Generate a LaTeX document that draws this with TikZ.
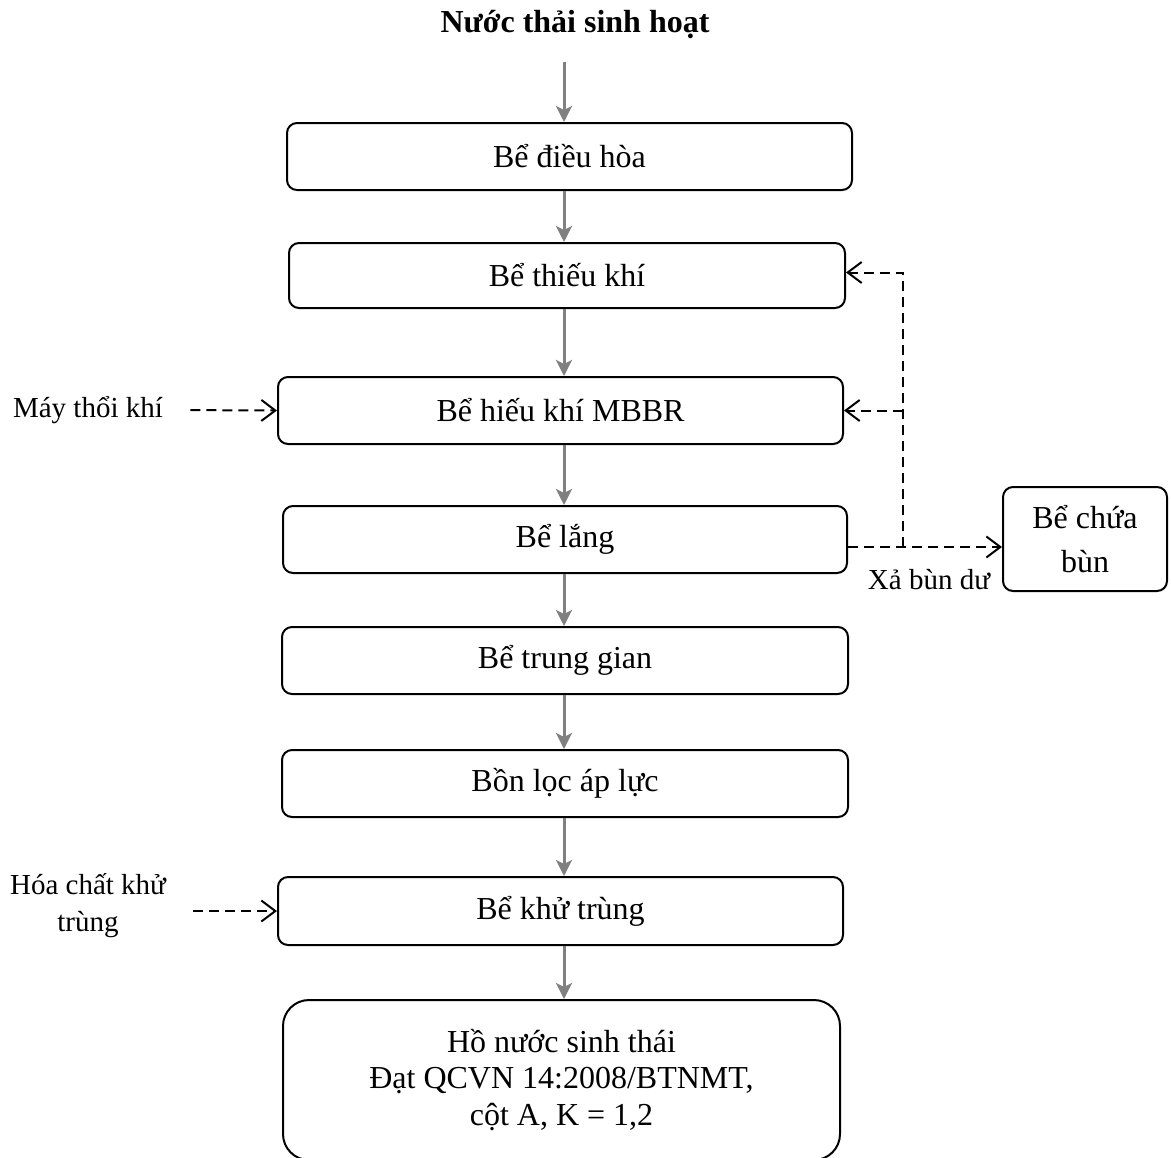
\documentclass[tikz,border=0pt]{standalone}
\usepackage{fontspec}
\setmainfont{Liberation Serif}
\usetikzlibrary{arrows.meta,calc}
\begin{document}
\begin{tikzpicture}[x=0.5pt,y=-0.5pt,
  font=\fontsize{16}{20}\selectfont,
  box/.style={draw,line width=1pt,rounded corners=5pt,inner sep=0pt,align=center},
  flow/.style={draw=black!50,line width=1.5pt,-{Stealth[length=8pt,width=8pt,inset=2pt]}},
  feed/.style={draw,line width=1pt,dash pattern=on 5pt off 3pt,-{Straight Barb[length=7pt,width=10.5pt,line width=1pt]}},
  lbl/.style={inner sep=0pt,align=center,font=\fontsize{14.5}{18.5}\selectfont}]
\useasboundingbox (0,0) rectangle (1171,1157);
\clip (0,0) rectangle (1171,1157);
\coordinate (col) at (564,0);
\node[inner sep=0pt,font=\fontsize{16}{20}\selectfont\bfseries] (title) at (575,25) {Nước thải sinh hoạt};
\node[box,minimum width=282.5pt,minimum height=33.5pt] (b1) at (569.5,156.5) {Bể điều hòa};
\node[box,minimum width=278pt,minimum height=32.5pt] (b2) at (567,275.5) {Bể thiếu khí};
\node[box,minimum width=282.5pt,minimum height=33.5pt] (b3) at (560.5,410.5) {Bể hiếu khí MBBR};
\node[box,minimum width=282pt,minimum height=33.5pt] (b4) at (565,539.5) {Bể lắng};
\node[box,minimum width=283pt,minimum height=33.5pt] (b5) at (565,660.5) {Bể trung gian};
\node[box,minimum width=283pt,minimum height=33.5pt] (b6) at (565,783.5) {Bồn lọc áp lực};
\node[box,minimum width=282.5pt,minimum height=34pt] (b7) at (560.5,911) {Bể khử trùng};
\node[box,rounded corners=13pt,minimum width=278.5pt,minimum height=80pt,font=\fontsize{16}{18.3}\selectfont] (b8) at (561.5,1080) {Hồ nước sinh thái\\Đạt QCVN 14:2008/BTNMT,\\cột A, K = 1,2};
\node[box,minimum width=82pt,minimum height=52pt,font=\fontsize{16}{22}\selectfont] (cb) at (1085,539) {Bể chứa\\bùn};
\node[lbl] (may) at (88,410) {Máy thổi khí};
\node[lbl] (hoa) at (88,906) {Hóa chất khử\\trùng};
\node[lbl] (xa) at (929,580) {Xả bùn dư};
% main flow
\draw[flow] (title.south -| col) ++(0,22) coordinate (t0) -- (b1.north -| col);
\draw[flow] (b1.south -| col) -- (b2.north -| col);
\draw[flow] (b2.south -| col) -- (b3.north -| col);
\draw[flow] (b3.south -| col) -- (b4.north -| col);
\draw[flow] (b4.south -| col) -- (b5.north -| col);
\draw[flow] (b5.south -| col) -- (b6.north -| col);
\draw[flow] (b6.south -| col) -- (b7.north -| col);
\draw[flow] (b7.south -| col) -- (b8.north -| col);
% sludge
\coordinate (j) at (903,547);
\draw[feed] (b4.east |- j) -- (cb.west |- j);
\draw[feed] (j) |- ([yshift=1.5pt]b2.east);
\draw[feed] (j |- b3.east) -- (b3.east);
% side feeds
\draw[feed,shorten <=13.5pt] (may.east) -- (b3.west);
\draw[feed] ([xshift=-42pt]b7.west) -- (b7.west);
\end{tikzpicture}
\end{document}
